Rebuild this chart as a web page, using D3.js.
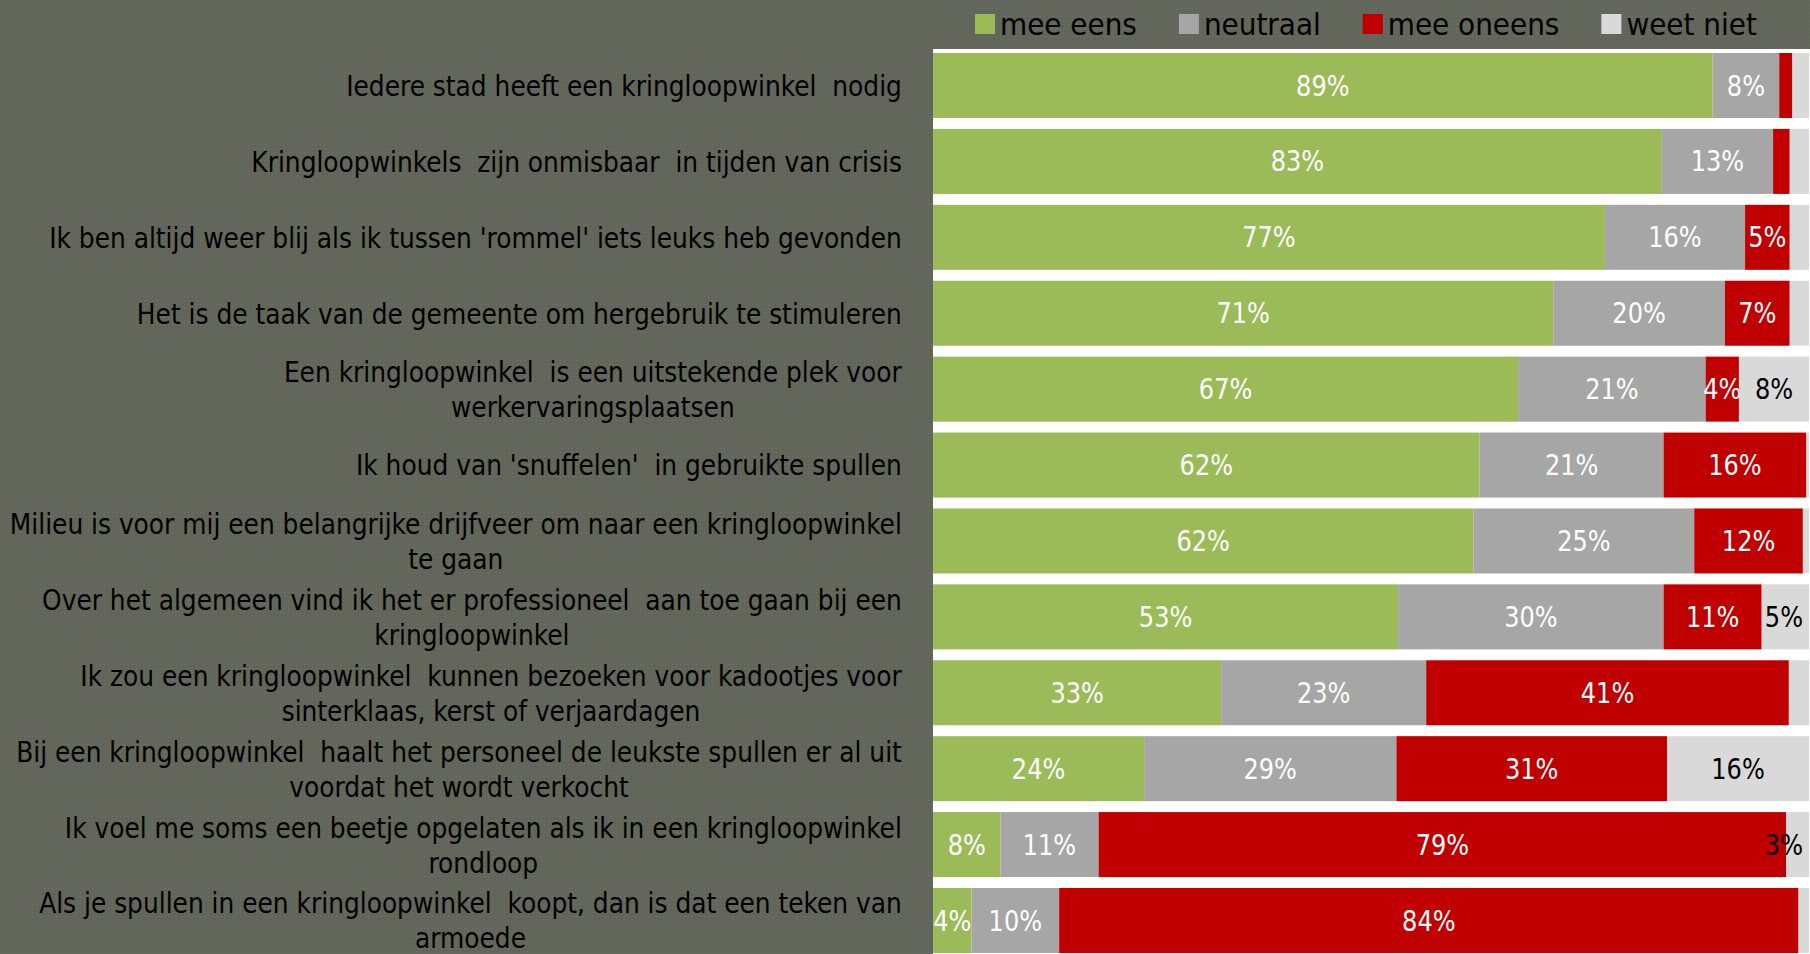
<!DOCTYPE html>
<html>
<head>
<meta charset="utf-8">
<script src="https://cdn.jsdelivr.net/npm/d3@7"></script>
<style>
  body { margin: 0; background: #63665a; }
  svg text { font-family: "DejaVu Sans Condensed", sans-serif; }
</style>
</head>
<body>
<div id="chart"></div>
<script>
var width = 1810, height = 954;

var categories = [
  "Iedere stad heeft een kringloopwinkel  nodig",
  "Kringloopwinkels  zijn onmisbaar  in tijden van crisis",
  "Ik ben altijd weer blij als ik tussen 'rommel' iets leuks heb gevonden",
  "Het is de taak van de gemeente om hergebruik te stimuleren",
  "Een kringloopwinkel  is een uitstekende plek voor\nwerkervaringsplaatsen",
  "Ik houd van 'snuffelen'  in gebruikte spullen",
  "Milieu is voor mij een belangrijke drijfveer om naar een kringloopwinkel\nte gaan",
  "Over het algemeen vind ik het er professioneel  aan toe gaan bij een\nkringloopwinkel",
  "Ik zou een kringloopwinkel  kunnen bezoeken voor kadootjes voor\nsinterklaas, kerst of verjaardagen",
  "Bij een kringloopwinkel  haalt het personeel de leukste spullen er al uit\nvoordat het wordt verkocht",
  "Ik voel me soms een beetje opgelaten als ik in een kringloopwinkel\nrondloop",
  "Als je spullen in een kringloopwinkel  koopt, dan is dat een teken van\narmoede"
];

var seriesNames = ["mee eens", "neutraal", "mee oneens", "weet niet"];
var meeEens   = [89.0, 83.2, 76.7, 70.8, 66.8, 62.4, 61.7, 53.1, 32.9, 24.1, 7.7, 4.4];
var neutraal  = [7.6, 12.7, 16.0, 19.6, 21.4, 21.0, 25.2, 30.3, 23.4, 28.8, 11.2, 10.0];
var meeOneens = [1.5, 1.9, 5.1, 7.4, 3.8, 16.3, 12.4, 11.2, 41.4, 30.9, 78.5, 84.4];
var weetNiet  = [1.9, 2.2, 2.2, 2.2, 8.0, 0.3, 0.7, 5.4, 2.3, 16.2, 2.6, 1.2];

var colors = ["#9bbb59", "#a6a6a6", "#c00000", "#d9d9d9"];
var labelColors = ["#fff", "#fff", "#fff", "#000"];

var rows = categories.map(function(c, i) {
  return { index: i, cat: c, "mee eens": meeEens[i], "neutraal": neutraal[i],
           "mee oneens": meeOneens[i], "weet niet": weetNiet[i] };
});

var stacked = d3.stack().keys(seriesNames)(rows);

var panelLeft = 933, panelTop = 49;
var squeeze = 0.955; // font is narrower in the original

var svg = d3.select("#chart").append("svg")
  .attr("width", width)
  .attr("height", height);

// subtle textured background
var defs = svg.append("defs");
var pat = defs.append("pattern")
  .attr("id", "tex").attr("width", 4).attr("height", 4)
  .attr("patternUnits", "userSpaceOnUse");
pat.append("rect").attr("width", 4).attr("height", 4).attr("fill", "#63665a");
pat.append("rect").attr("x", 0).attr("y", 0).attr("width", 1).attr("height", 1).attr("fill", "#6b6e62");
pat.append("rect").attr("x", 2).attr("y", 2).attr("width", 1).attr("height", 1).attr("fill", "#5c5f53");
svg.append("rect").attr("width", width).attr("height", height).attr("fill", "url(#tex)");

svg.append("rect")
  .attr("x", panelLeft).attr("y", panelTop)
  .attr("width", width - panelLeft).attr("height", height - panelTop)
  .attr("fill", "#fff");

var x = d3.scaleLinear().domain([0, 100]).range([panelLeft, 1809]);
var y = d3.scaleBand().domain(d3.range(categories.length))
  .range([53, 953]).paddingInner(0.1436).paddingOuter(0);

var layers = svg.selectAll("g.layer")
  .data(stacked)
  .enter().append("g")
  .attr("class", "layer")
  .attr("fill", function(d, i) { return colors[i]; });

layers.selectAll("rect")
  .data(function(d) { return d; })
  .enter().append("rect")
  .attr("x", function(d) { return x(d[0]); })
  .attr("y", function(d, i) { return y(i); })
  .attr("width", function(d) { return x(d[1]) - x(d[0]); })
  .attr("height", y.bandwidth());

// value labels (small slices get none)
layers.selectAll("text")
  .data(function(d, k) {
    return d.map(function(e) { return { e: e, k: k }; })
      .filter(function(o) { return (o.e[1] - o.e[0]) >= 2.5; });
  })
  .enter().append("text")
  .attr("dy", "0.36em")
  .attr("text-anchor", "middle")
  .attr("fill", function(d) { return labelColors[d.k]; })
  .style("font-size", "28px")
  .text(function(d) { return Math.round(d.e[1] - d.e[0]) + "%"; })
  .attr("transform", function(d) {
    var w = this.getComputedTextLength() * squeeze;
    var cx = Math.min((x(d.e[0]) + x(d.e[1])) / 2, 1803 - w / 2);
    var cy = y(d.e.data.index) + y.bandwidth() / 2;
    return "translate(" + cx + "," + cy + ") scale(" + squeeze + ",1)";
  });

// category labels: centered block, right edge at 902
var labelRight = 902, lineH = 35;
categories.forEach(function(c, i) {
  var lines = c.split("\n");
  var cy = y(i) + y.bandwidth() / 2;
  var t = svg.append("text")
    .attr("text-anchor", "middle")
    .attr("fill", "#000")
    .style("font-size", "29px")
    .style("white-space", "pre");
  lines.forEach(function(l, j) {
    t.append("tspan")
      .attr("x", 0)
      .attr("y", cy + (j - (lines.length - 1) / 2) * lineH)
      .attr("dy", "0.36em")
      .text(l);
  });
  var w = t.node().getBBox().width * squeeze;
  t.attr("transform", "translate(" + (labelRight - w / 2) + ",0) scale(" + squeeze + ",1)");
});

// legend
var lx = 975;
var legend = svg.append("g");
seriesNames.forEach(function(s, i) {
  legend.append("rect")
    .attr("x", lx).attr("y", 14)
    .attr("width", 20).attr("height", 20)
    .attr("fill", colors[i]);
  var t = legend.append("text")
    .attr("x", lx + 25).attr("y", 24)
    .attr("dy", "0.36em")
    .attr("fill", "#000")
    .style("font-size", "31px")
    .text(s);
  lx += 25 + t.node().getComputedTextLength() + 42;
});
</script>
</body>
</html>
